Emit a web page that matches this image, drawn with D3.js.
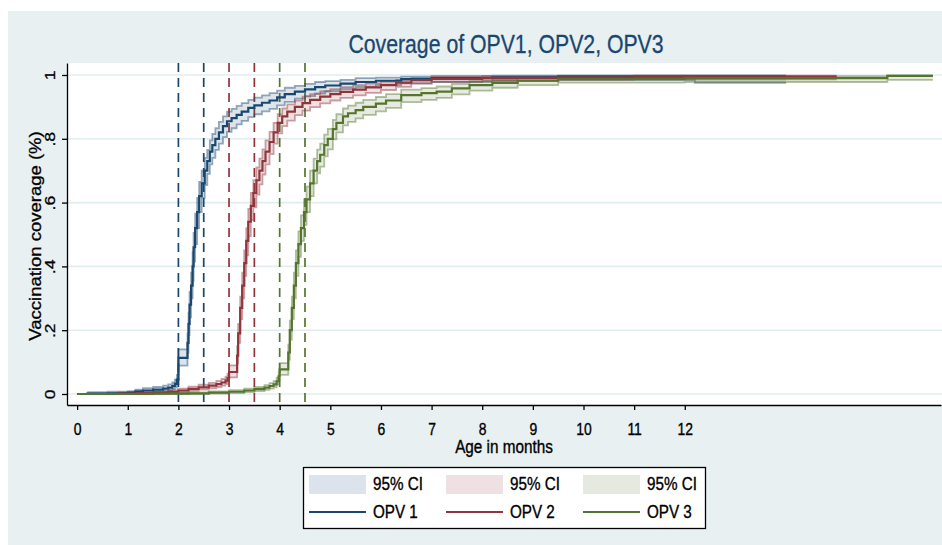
<!DOCTYPE html>
<html>
<head>
<meta charset="utf-8">
<script src="https://cdn.jsdelivr.net/npm/d3@7"></script>
<style>
  html, body { margin: 0; padding: 0; background: #ffffff; }
  svg { display: block; }
  text { font-family: "Liberation Sans", Arial, sans-serif; }
</style>
</head>
<body>
<svg id="chart" width="942" height="545"></svg>
<script>
// ---------------- DATA ----------------
const chartTitle = "Coverage of OPV1, OPV2, OPV3";
const xAxisTitle = "Age in months";
const yAxisTitle = "Vaccination coverage (%)";
const xTickValues = [0, 1, 2, 3, 4, 5, 6, 7, 8, 9, 10, 11, 12];
const yTickValues = [0, 0.2, 0.4, 0.6, 0.8, 1];
const yTickLabels = ["0", ".2", ".4", ".6", ".8", "1"];
const seriesNames = ["OPV 1", "OPV 2", "OPV 3"];
const ciLabel = "95% CI";
const refLines1 = [2, 2.5];
const refLines2 = [3, 3.5];
const refLines3 = [4, 4.5];

// OPV 1
const time1 = [0, 0.2, 0.6, 1.0, 1.15, 1.3, 1.5, 1.7, 1.8, 1.88,
  1.93, 1.97, 2.0, 2.18, 2.2, 2.22, 2.25, 2.28, 2.3, 2.33,
  2.37, 2.41, 2.46, 2.52, 2.57, 2.62, 2.67, 2.73, 2.8, 2.88,
  2.96, 3.05, 3.15, 3.25, 3.38, 3.5, 3.65, 3.8, 3.95, 4.1,
  4.3, 4.5, 4.7, 4.9, 5.2, 5.5, 5.9, 6.4, 7.0, 8.2,
  9.5, 12.2, 14.0];
const est1 = [0, 0.001, 0.002, 0.004, 0.008, 0.011, 0.014, 0.017, 0.020, 0.025,
  0.032, 0.045, 0.113, 0.16, 0.22, 0.28, 0.34, 0.40, 0.46, 0.52,
  0.57, 0.62, 0.66, 0.70, 0.73, 0.76, 0.78, 0.80, 0.82, 0.84,
  0.855, 0.865, 0.875, 0.885, 0.897, 0.905, 0.913, 0.92, 0.93, 0.94,
  0.948, 0.955, 0.962, 0.967, 0.973, 0.978, 0.982, 0.987, 0.99, 0.993,
  0.995, 0.995, 0.995];
const lo1 = [null, 0, 0, 0.001, 0.003, 0.005, 0.007, 0.009, 0.011, 0.015,
  0.02, 0.031, 0.089, 0.13, 0.185, 0.24, 0.30, 0.355, 0.415, 0.47,
  0.52, 0.57, 0.615, 0.655, 0.69, 0.72, 0.74, 0.765, 0.785, 0.805,
  0.822, 0.833, 0.845, 0.856, 0.868, 0.877, 0.886, 0.894, 0.905, 0.916,
  0.926, 0.934, 0.942, 0.949, 0.956, 0.962, 0.968, 0.974, 0.978, 0.982,
  0.984, 0.975, 0.975];
const hi1 = [null, 0.006, 0.007, 0.009, 0.014, 0.018, 0.022, 0.026, 0.03, 0.036,
  0.045, 0.06, 0.14, 0.19, 0.255, 0.32, 0.38, 0.445, 0.505, 0.565,
  0.615, 0.665, 0.70, 0.74, 0.765, 0.795, 0.815, 0.833, 0.853, 0.87,
  0.885, 0.894, 0.903, 0.912, 0.922, 0.929, 0.936, 0.943, 0.951, 0.96,
  0.966, 0.972, 0.978, 0.981, 0.985, 0.99, 0.992, 0.995, 0.997, 0.998,
  0.999, 0.999, 0.999];

// OPV 2
const time2 = [0, 0.8, 1.2, 1.5, 1.8, 2.0, 2.2, 2.4, 2.6, 2.75,
  2.85, 2.93, 2.97, 3.0, 3.16, 3.18, 3.22, 3.26, 3.3, 3.34,
  3.38, 3.43, 3.48, 3.54, 3.6, 3.66, 3.72, 3.8, 3.88, 3.96,
  4.05, 4.15, 4.3, 4.45, 4.6, 4.8, 5.0, 5.2, 5.45, 5.7,
  6.0, 6.3, 6.6, 7.0, 8.0, 9.5, 11.0, 15.0];
const est2 = [0, 0.001, 0.002, 0.004, 0.007, 0.011, 0.016, 0.021, 0.026, 0.031,
  0.036, 0.042, 0.05, 0.069, 0.12, 0.19, 0.27, 0.34, 0.41, 0.48,
  0.54, 0.59, 0.63, 0.67, 0.70, 0.73, 0.76, 0.79, 0.82, 0.85,
  0.87, 0.885, 0.90, 0.912, 0.922, 0.932, 0.94, 0.947, 0.954, 0.961,
  0.968, 0.976, 0.984, 0.988, 0.991, 0.993, 0.995, 0.995];
const lo2 = [null, 0, 0, 0.001, 0.003, 0.006, 0.01, 0.014, 0.018, 0.022,
  0.026, 0.031, 0.038, 0.052, 0.095, 0.16, 0.235, 0.30, 0.37, 0.435,
  0.495, 0.545, 0.585, 0.625, 0.657, 0.688, 0.72, 0.752, 0.785, 0.817,
  0.84, 0.857, 0.874, 0.888, 0.899, 0.911, 0.92, 0.928, 0.936, 0.944,
  0.953, 0.963, 0.973, 0.978, 0.982, 0.985, 0.986, 0.986];
const hi2 = [null, 0.005, 0.006, 0.008, 0.012, 0.017, 0.023, 0.029, 0.035, 0.041,
  0.047, 0.054, 0.063, 0.09, 0.15, 0.22, 0.305, 0.38, 0.45, 0.52,
  0.58, 0.63, 0.67, 0.71, 0.738, 0.767, 0.795, 0.822, 0.85, 0.877,
  0.895, 0.908, 0.92, 0.932, 0.94, 0.949, 0.956, 0.962, 0.968, 0.974,
  0.979, 0.985, 0.991, 0.994, 0.996, 0.997, 0.998, 0.998];

// OPV 3
const time3 = [0, 1.5, 2.2, 2.6, 3.0, 3.3, 3.5, 3.7, 3.8, 3.88,
  3.94, 3.98, 4.0, 4.17, 4.2, 4.24, 4.28, 4.32, 4.37, 4.42,
  4.48, 4.53, 4.6, 4.67, 4.74, 4.8, 4.88, 4.95, 5.05, 5.12,
  5.25, 5.35, 5.5, 5.65, 5.9, 6.1, 6.4, 6.8, 7.1, 7.4,
  7.75, 8.2, 8.7, 9.5, 12.0, 16.0, 16.9];
const est3 = [0, 0.001, 0.002, 0.004, 0.007, 0.011, 0.015, 0.02, 0.025, 0.03,
  0.04, 0.055, 0.077, 0.13, 0.2, 0.27, 0.34, 0.41, 0.47, 0.52,
  0.57, 0.61, 0.66, 0.70, 0.73, 0.75, 0.78, 0.80, 0.83, 0.85,
  0.87, 0.88, 0.89, 0.90, 0.91, 0.92, 0.937, 0.943, 0.948, 0.958,
  0.968, 0.975, 0.982, 0.988, 0.99, 0.997, 0.997];
const lo3 = [null, 0, 0, 0.001, 0.003, 0.006, 0.009, 0.013, 0.017, 0.021,
  0.03, 0.043, 0.06, 0.108, 0.17, 0.235, 0.30, 0.37, 0.43, 0.48,
  0.53, 0.57, 0.62, 0.66, 0.692, 0.713, 0.745, 0.767, 0.798, 0.82,
  0.842, 0.853, 0.864, 0.875, 0.886, 0.897, 0.915, 0.922, 0.928, 0.939,
  0.951, 0.96, 0.968, 0.976, 0.978, 0.985, 0.985];
const hi3 = [null, 0.004, 0.005, 0.008, 0.012, 0.017, 0.022, 0.028, 0.034, 0.04,
  0.051, 0.068, 0.097, 0.155, 0.23, 0.305, 0.38, 0.45, 0.51, 0.56,
  0.61, 0.65, 0.70, 0.738, 0.766, 0.785, 0.813, 0.831, 0.859, 0.877,
  0.895, 0.904, 0.913, 0.922, 0.931, 0.940, 0.954, 0.959, 0.964, 0.972,
  0.981, 0.986, 0.991, 0.995, 0.996, 0.999, 0.999];

// ---------------- STYLE ----------------
const colors = ["#1a476f", "#90353b", "#55752f"];
const ciSwatch = ["#dde3ec", "#efe1e3", "#e6e9df"];
const bgColor = "#e8f0f2";
const gridColor = "#e1ecef";
const SX = 0.85; // horizontal compression of glyphs seen in the reference
const TXT_STROKE = 0.35; // slight heaviness of the reference lettering

const W = 942, H = 545;
const plot = { left: 67, right: 941, top: 63, bottom: 405 };

const svg = d3.select("#chart");

svg.append("rect").attr("x", 8).attr("y", 11).attr("width", W - 8).attr("height", H - 11)
  .attr("fill", bgColor);
svg.append("rect").attr("x", plot.left).attr("y", plot.top)
  .attr("width", W - plot.left).attr("height", plot.bottom - plot.top).attr("fill", "#ffffff");

const x = d3.scaleLinear().domain([-0.2, 17.06]).range([plot.left, plot.right]);
const y = d3.scaleLinear().domain([-0.0345, 1.0376]).range([plot.bottom, plot.top]);

// gridlines
svg.append("g").selectAll("line").data(yTickValues).join("line")
  .attr("x1", plot.left).attr("x2", W)
  .attr("y1", d => y(d)).attr("y2", d => y(d))
  .attr("stroke", gridColor).attr("stroke-width", 1.6);

// reference dashed lines
[refLines1, refLines2, refLines3].forEach((set, i) => {
  svg.append("g").selectAll("line").data(set).join("line")
    .attr("x1", d => x(d)).attr("x2", d => x(d))
    .attr("y1", plot.top).attr("y2", plot.bottom)
    .attr("stroke", colors[i]).attr("stroke-width", 1.7)
    .attr("stroke-dasharray", "9,6");
});

const series = [
  { t: time1, e: est1, lo: lo1, hi: hi1 },
  { t: time2, e: est2, lo: lo2, hi: hi2 },
  { t: time3, e: est3, lo: lo3, hi: hi3 }
];

const area = d3.area()
  .defined(d => d.lo !== null)
  .x(d => x(d.t)).y0(d => y(d.lo)).y1(d => y(d.hi))
  .curve(d3.curveStepAfter);
const lineLo = d3.line().defined(d => d.lo !== null)
  .x(d => x(d.t)).y(d => y(d.lo)).curve(d3.curveStepAfter);
const lineHi = d3.line().defined(d => d.hi !== null)
  .x(d => x(d.t)).y(d => y(d.hi)).curve(d3.curveStepAfter);
const lineEst = d3.line().x(d => x(d.t)).y(d => y(d.e)).curve(d3.curveStepAfter);

const rows = series.map(s => s.t.map((t, i) => ({ t, e: s.e[i], lo: s.lo[i], hi: s.hi[i] })));

rows.forEach((r, i) => {
  const g = svg.append("g");
  g.append("path").datum(r).attr("d", area)
    .attr("fill", colors[i]).attr("fill-opacity", 0.15);
  g.append("path").datum(r).attr("d", lineLo)
    .attr("fill", "none").attr("stroke", colors[i]).attr("stroke-opacity", 0.45).attr("stroke-width", 1.8);
  g.append("path").datum(r).attr("d", lineHi)
    .attr("fill", "none").attr("stroke", colors[i]).attr("stroke-opacity", 0.45).attr("stroke-width", 1.8);
});
rows.forEach((r, i) => {
  svg.append("path").datum(r).attr("d", lineEst)
    .attr("fill", "none").attr("stroke", colors[i]).attr("stroke-width", 2.2);
});

// axes
const xAxis = svg.append("g").attr("transform", `translate(0,${plot.bottom})`)
  .call(d3.axisBottom(x).tickValues(xTickValues).tickFormat(d3.format("d")).tickSize(5).tickSizeOuter(0));
xAxis.select(".domain").attr("stroke", "#000").attr("stroke-width", 1.3);
xAxis.selectAll(".tick line").attr("stroke", "#000").attr("stroke-width", 1.3);
xAxis.selectAll(".tick text")
  .attr("y", 0).attr("dy", null)
  .attr("transform", `translate(0,29.5) scale(0.82,1)`)
  .attr("font-size", 17).attr("fill", "#000")
  .attr("stroke", "#000").attr("stroke-width", TXT_STROKE)
  .attr("font-family", "'Liberation Sans', Arial, sans-serif");

const yAxis = svg.append("g").attr("transform", `translate(${plot.left},0)`)
  .call(d3.axisLeft(y).tickValues(yTickValues).tickFormat((d, i) => yTickLabels[i]).tickSize(5).tickSizeOuter(0));
yAxis.select(".domain").attr("stroke", "#000").attr("stroke-width", 1.3);
yAxis.selectAll(".tick line").attr("stroke", "#000").attr("stroke-width", 1.3);
yAxis.selectAll(".tick text")
  .attr("x", 0).attr("y", 0).attr("dy", null)
  .attr("text-anchor", "middle")
  .attr("transform", `translate(-12,0) rotate(-90) scale(1,0.82)`)
  .attr("font-size", 17.5).attr("fill", "#000")
  .attr("stroke", "#000").attr("stroke-width", TXT_STROKE)
  .attr("font-family", "'Liberation Sans', Arial, sans-serif");

// titles
svg.append("text")
  .attr("transform", `translate(506,53) scale(${SX},1)`)
  .attr("text-anchor", "middle").attr("font-size", 25).attr("fill", colors[0])
  .attr("stroke", colors[0]).attr("stroke-width", 0.3)
  .text(chartTitle);
svg.append("text")
  .attr("transform", `translate(504,453) scale(${SX},1)`)
  .attr("text-anchor", "middle").attr("font-size", 18).attr("fill", "#000")
  .attr("stroke", "#000").attr("stroke-width", TXT_STROKE)
  .text(xAxisTitle);
svg.append("text")
  .attr("transform", `translate(41,236) rotate(-90) scale(1,${SX})`)
  .attr("text-anchor", "middle").attr("font-size", 18.5).attr("fill", "#000")
  .attr("stroke", "#000").attr("stroke-width", TXT_STROKE)
  .text(yAxisTitle);

// legend
const lg = svg.append("g");
lg.append("rect").attr("x", 303.5).attr("y", 467.5).attr("width", 402).attr("height", 61)
  .attr("fill", "#ffffff").attr("stroke", "#000").attr("stroke-width", 1.3);
const colX = [309, 446, 583];
seriesNames.forEach((name, i) => {
  const x0 = colX[i];
  lg.append("rect").attr("x", x0).attr("y", 475).attr("width", 57).attr("height", 19)
    .attr("fill", ciSwatch[i]);
  lg.append("line").attr("x1", x0).attr("x2", x0 + 57).attr("y1", 512).attr("y2", 512)
    .attr("stroke", colors[i]).attr("stroke-width", 2.2);
  lg.append("text").attr("transform", `translate(${x0 + 64},490) scale(0.87,1)`)
    .attr("font-size", 17.5).attr("fill", "#000")
    .attr("stroke", "#000").attr("stroke-width", TXT_STROKE).text(ciLabel);
  lg.append("text").attr("transform", `translate(${x0 + 64},518) scale(0.87,1)`)
    .attr("font-size", 17.5).attr("fill", "#000")
    .attr("stroke", "#000").attr("stroke-width", TXT_STROKE).text(name);
});
</script>
</body>
</html>
